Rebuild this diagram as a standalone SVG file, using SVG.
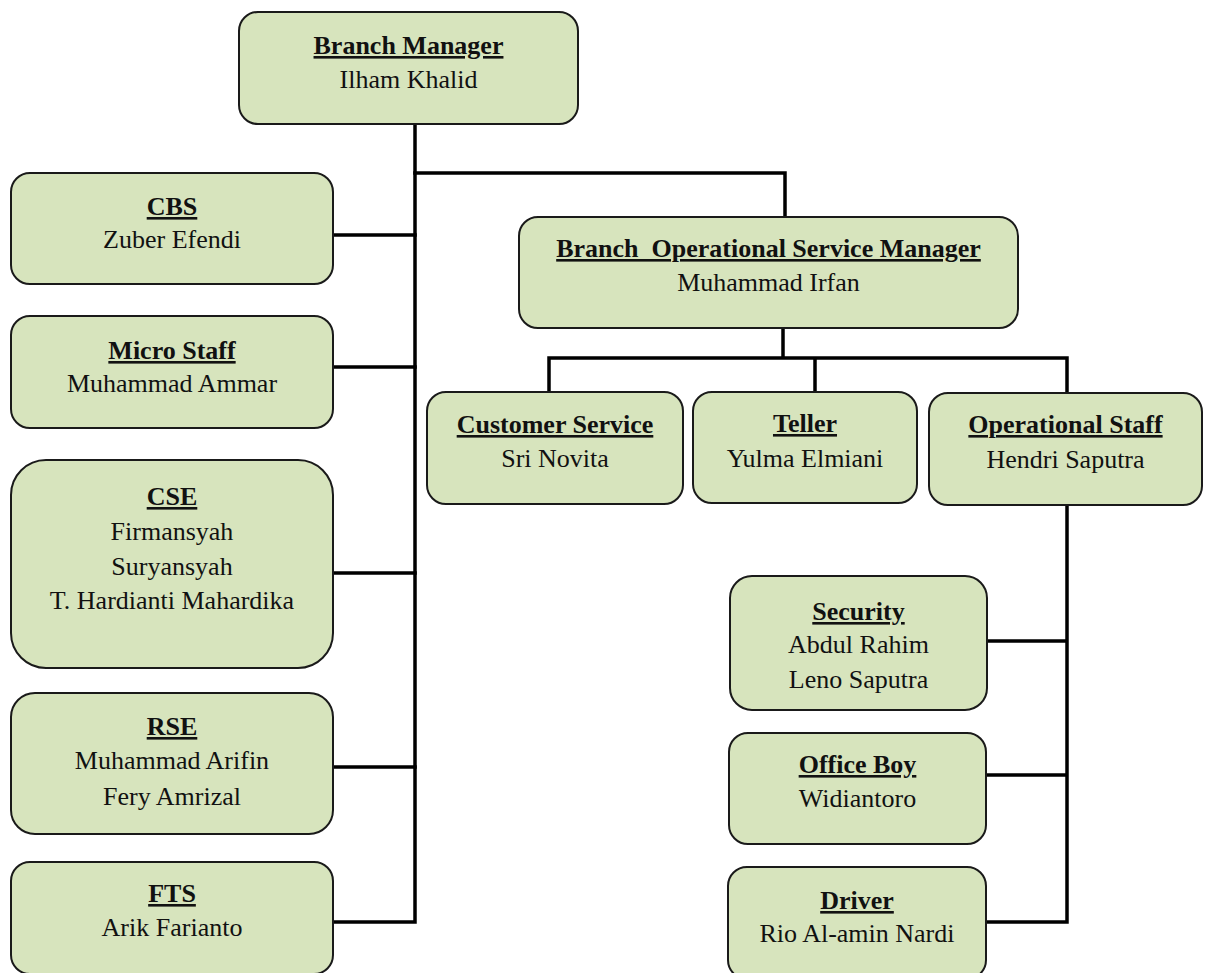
<svg xmlns="http://www.w3.org/2000/svg" width="1208" height="973" viewBox="0 0 1208 973">
<style>
.box{fill:#D7E4BD;stroke:#1a1a1a;stroke-width:2}
.con{fill:none;stroke:#000;stroke-width:3.5;stroke-linejoin:miter;stroke-linecap:square}
text{font-family:"Liberation Serif","Times New Roman",serif;font-size:26px;fill:#111;text-anchor:middle}
.t{font-weight:bold;text-decoration:underline}
.pre{white-space:pre}
</style>
<rect width="1208" height="973" fill="#fff"/>
<g id="connectors">
<path class="con" d="M333 922 H415 V124"/>
<path class="con" d="M415 173 H785 V217"/>
<path class="con" d="M333 235 H415 M333 367 H415 M333 573 H415 M333 767 H415"/>
<path class="con" d="M783 328 V358 M549 392 V358 H1067 V393 M815 358 V392"/>
<path class="con" d="M1067 505 V922 H986 M987 641 H1067 M986 775 H1067"/>
</g>
<g id="branch-manager">
<rect class="box" x="239" y="12" width="339" height="112" rx="19"/>
<text class="t" x="408.5" y="54">Branch Manager</text>
<text x="408.5" y="88">Ilham Khalid</text>
</g>
<g id="cbs">
<rect class="box" x="11" y="173" width="322" height="111" rx="19"/>
<text class="t" x="172" y="215">CBS</text>
<text x="172" y="248">Zuber Efendi</text>
</g>
<g id="micro-staff">
<rect class="box" x="11" y="316" width="322" height="112" rx="19"/>
<text class="t" x="172" y="359">Micro Staff</text>
<text x="172" y="392">Muhammad Ammar</text>
</g>
<g id="cse">
<rect class="box" x="11" y="460" width="322" height="208" rx="35"/>
<text class="t" x="172" y="505">CSE</text>
<text x="172" y="540">Firmansyah</text>
<text x="172" y="575">Suryansyah</text>
<text x="172" y="609">T. Hardianti Mahardika</text>
</g>
<g id="rse">
<rect class="box" x="11" y="693" width="322" height="141" rx="24"/>
<text class="t" x="172" y="735">RSE</text>
<text x="172" y="769">Muhammad Arifin</text>
<text x="172" y="805">Fery Amrizal</text>
</g>
<g id="fts">
<rect class="box" x="11" y="862" width="322" height="112" rx="19"/>
<text class="t" x="172" y="902">FTS</text>
<text x="172" y="936">Arik Farianto</text>
</g>
<g id="bosm">
<rect class="box" x="519" y="217" width="499" height="111" rx="19"/>
<text class="t pre" x="768.5" y="257">Branch  Operational Service Manager</text>
<text x="768.5" y="291">Muhammad Irfan</text>
</g>
<g id="customer-service">
<rect class="box" x="427" y="392" width="256" height="112" rx="19"/>
<text class="t" x="555" y="433">Customer Service</text>
<text x="555" y="467">Sri Novita</text>
</g>
<g id="teller">
<rect class="box" x="693" y="392" width="224" height="111" rx="19"/>
<text class="t" x="805" y="432">Teller</text>
<text x="805" y="467">Yulma Elmiani</text>
</g>
<g id="operational-staff">
<rect class="box" x="929" y="393" width="273" height="112" rx="19"/>
<text class="t" x="1065.5" y="433">Operational Staff</text>
<text x="1065.5" y="468">Hendri Saputra</text>
</g>
<g id="security">
<rect class="box" x="730" y="576" width="257" height="134" rx="22"/>
<text class="t" x="858.5" y="620">Security</text>
<text x="858.5" y="653">Abdul Rahim</text>
<text x="858.5" y="688">Leno Saputra</text>
</g>
<g id="office-boy">
<rect class="box" x="729" y="733" width="257" height="111" rx="19"/>
<text class="t" x="857.5" y="773">Office Boy</text>
<text x="857.5" y="807">Widiantoro</text>
</g>
<g id="driver">
<rect class="box" x="728" y="867" width="258" height="112" rx="19"/>
<text class="t" x="857" y="909">Driver</text>
<text x="857" y="942">Rio Al-amin Nardi</text>
</g>
</svg>
